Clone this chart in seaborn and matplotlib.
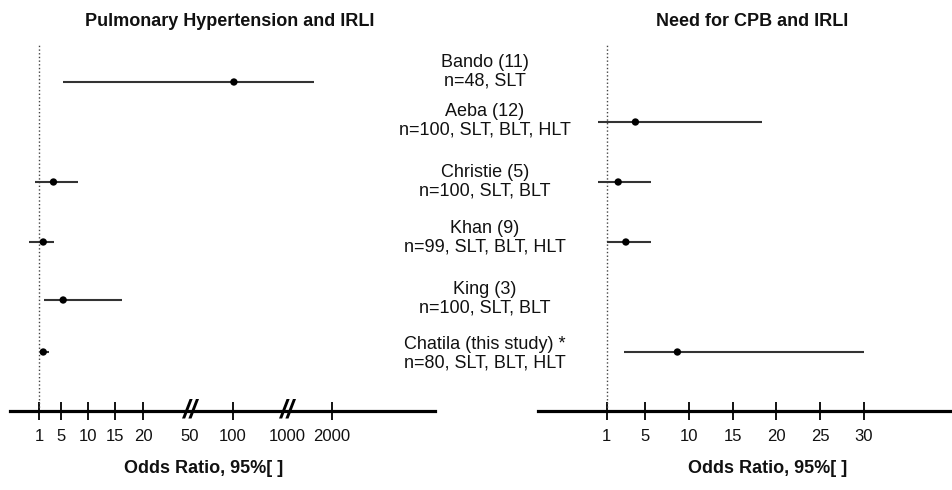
import numpy as np
import pandas as pd
import matplotlib
matplotlib.use("Agg")
import matplotlib.pyplot as plt
import matplotlib.transforms as mtransforms
import seaborn as sns

# Data (odds ratios with 95% CI)
STUDIES = ["Bando (11)", "Aeba (12)", "Christie (5)", "Khan (9)", "King (3)",
           "Chatila (this study) *"]
COHORTS = ["n=48, SLT", "n=100, SLT, BLT, HLT", "n=100, SLT, BLT",
           "n=99, SLT, BLT, HLT", "n=100, SLT, BLT", "n=80, SLT, BLT, HLT"]

PH_OR = [115, np.nan, 3.6, 1.7, 5.4, 1.7]
PH_LO = [5.4, np.nan, 0.6, 0.1, 1.9, 1.4]
PH_HI = [1600, np.nan, 8.1, 3.75, 16.2, 2.8]

CPB_OR = [np.nan, 4.0, 2.2, 3.0, np.nan, 8.7]
CPB_LO = [np.nan, 0.13, 0.13, 1.0, np.nan, 2.8]
CPB_HI = [np.nan, 18.3, 5.65, 5.65, np.nan, 30]

LEFT_TICKS = [1, 5, 10, 15, 20, 50, 100, 1000, 2000]
LEFT_BREAKS = [50, 1000]
RIGHT_TICKS = [1, 5, 10, 15, 20, 25, 30]

# Layout: rows / labels in pixel space of a 953x490 canvas
W, H = 953, 490
ROW_Y = [82, 122, 182, 242, 300, 352]
LABEL_Y = [72, 121, 182, 238, 299, 354]
AXIS_Y, TOP_Y = 410.7, 45

# piecewise (broken) axis scales: value -> pixel anchors
LEFT_ANCHOR_VALS = [-10, 0, 1, 5, 10, 15, 20, 50, 100, 1000, 2000, 10000]
LEFT_ANCHOR_PX = [-87, 28, 39.5, 61, 88, 115, 143, 190, 233, 287, 332, 692]
RIGHT_ANCHOR_VALS = [-10, 0, 1, 5, 30, 100]
RIGHT_ANCHOR_PX = [501, 597.1, 606.7, 645, 864, 1477]


def make_scale(vals, px):
    def fwd(v):
        return np.interp(v, vals, px)

    def inv(p):
        return np.interp(p, px, vals)
    return fwd, inv


sns.set_theme(style="white")
plt.rcParams["font.family"] = ["Liberation Sans", "DejaVu Sans"]

fig = plt.figure(figsize=(W / 100, H / 100), dpi=100)


def draw_panel(x0, x1, or_, lo, hi, ticks, anchors, breaks, title, title_x, xlabel_x):
    fwd, inv = make_scale(*anchors)
    ax = fig.add_axes([x0 / W, 1 - AXIS_Y / H, (x1 - x0) / W, (AXIS_Y - TOP_Y) / H])
    ax.set_xscale("function", functions=(fwd, inv))

    df = pd.DataFrame({"row": ROW_Y, "or": or_, "lo": lo, "hi": hi}).dropna()
    ax.hlines(df["row"], df["lo"], df["hi"], color="#333333", lw=1.5, zorder=2)
    sns.scatterplot(data=df, x="or", y="row", ax=ax, color="black", s=28,
                    edgecolor="none", zorder=3, legend=False)
    ax.axvline(1, color="#444444", ls=":", lw=1.0, zorder=1)

    ax.set_xlim(inv(x0), inv(x1))
    ax.set_ylim(AXIS_Y, TOP_Y)
    ax.set_xticks(ticks)
    ax.set_xticklabels([str(t) for t in ticks], fontsize=12)
    ax.tick_params(axis="x", bottom=True, direction="inout", length=13, width=1.3,
                   color="black", pad=7, labelcolor="#111111")
    ax.set_yticks([])
    ax.set_xlabel("")
    ax.set_ylabel("")
    for s in ["top", "left", "right"]:
        ax.spines[s].set_visible(False)
    ax.spines["bottom"].set_linewidth(2.3)
    ax.spines["bottom"].set_color("black")
    ax.grid(False)

    # broken-axis markers replace the tick marks at the break values
    trans = mtransforms.blended_transform_factory(ax.transData, ax.transAxes)
    for tk, val in zip(ax.xaxis.get_major_ticks(), ticks):
        if val in breaks:
            tk.tick1line.set_visible(False)
            ax.text(val, 0, "//", transform=trans, ha="center", va="center",
                    fontsize=19, fontstyle="italic", fontweight="bold",
                    color="black", clip_on=False)

    fig.text(title_x / W, 1 - 22 / H, title, ha="center", va="center",
             fontsize=13, fontweight="bold", color="#111111")
    fig.text(xlabel_x / W, 1 - 468 / H, "Odds Ratio, 95%[ ]", ha="center",
             va="center", fontsize=13, fontweight="bold", color="#111111")
    return ax


draw_panel(10, 435, PH_OR, PH_LO, PH_HI, LEFT_TICKS,
           (LEFT_ANCHOR_VALS, LEFT_ANCHOR_PX), LEFT_BREAKS,
           "Pulmonary Hypertension and IRLI", 230, 204)
draw_panel(538, 953, CPB_OR, CPB_LO, CPB_HI, RIGHT_TICKS,
           (RIGHT_ANCHOR_VALS, RIGHT_ANCHOR_PX), [],
           "Need for CPB and IRLI", 752, 768)

# study labels in the middle column
for name, cohort, y in zip(STUDIES, COHORTS, LABEL_Y):
    fig.text(485 / W, 1 - y / H, f"{name}\n{cohort}", ha="center", va="center",
             fontsize=13, linespacing=1.1, color="#111111", multialignment="center")

fig.savefig("out.png", dpi=100)
